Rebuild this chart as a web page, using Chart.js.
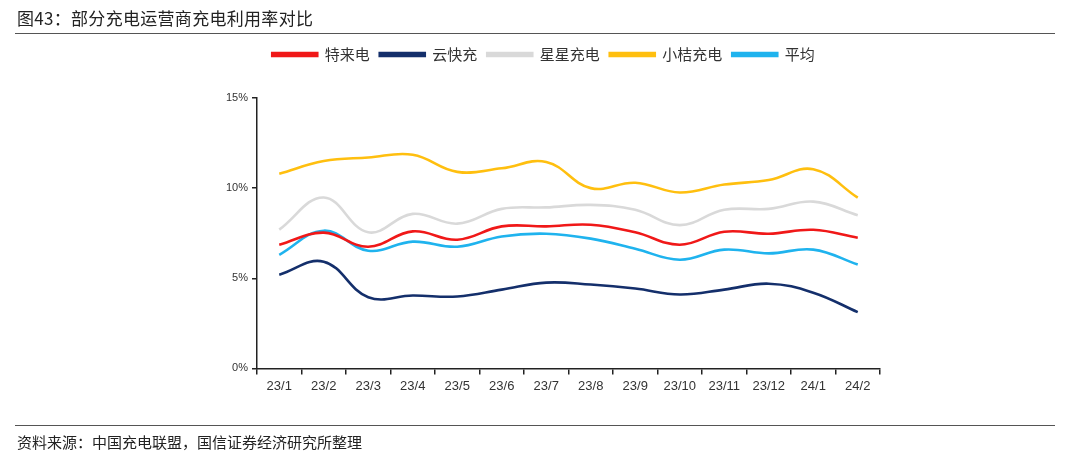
<!DOCTYPE html>
<html>
<head>
<meta charset="utf-8">
<script src="https://cdn.jsdelivr.net/npm/chart.js@4.4.1/dist/chart.umd.min.js"></script>
<style>
  html, body { margin: 0; padding: 0; background: #fff; }
  body { width: 1069px; height: 457px; position: relative; overflow: hidden;
         font-family: "Noto Sans CJK SC", "Noto Sans", sans-serif; }
  #wrap { position: absolute; left: 0; top: 0; width: 1069px; height: 457px; }
  .title { position: absolute; left: 17px; top: 5px; font-size: 17px; color: #222; letter-spacing: 0.3px; }
  .rule { position: absolute; left: 15px; width: 1040px; height: 0; border-top: 1.5px solid #555; }
  .source { position: absolute; left: 17px; top: 431px; font-size: 15px; color: #222; }
</style>
</head>
<body>
<div id="wrap"><canvas id="c" width="1069" height="457"></canvas></div>
<div class="title">图43：部分充电运营商充电利用率对比</div>
<div class="rule" style="top:33px"></div>
<div class="rule" style="top:425px"></div>
<div class="source">资料来源：中国充电联盟，国信证券经济研究所整理</div>
<script>
const categories = ['23/1','23/2','23/3','23/4','23/5','23/6','23/7','23/8','23/9','23/10','23/11','23/12','24/1','24/2'];
const teld    = [6.86, 7.53, 6.75, 7.60, 7.14, 7.88, 7.88, 7.97, 7.55, 6.86, 7.58, 7.47, 7.69, 7.25];
const ykc     = [5.20, 5.92, 3.95, 4.04, 3.99, 4.37, 4.76, 4.65, 4.43, 4.10, 4.37, 4.70, 4.20, 3.12];
const xingxing= [7.70, 9.48, 7.55, 8.57, 8.03, 8.85, 8.93, 9.07, 8.80, 7.95, 8.80, 8.85, 9.25, 8.50];
const xiaoju  = [10.80, 11.50, 11.70, 11.85, 10.90, 11.10, 11.45, 10.00, 10.30, 9.76, 10.20, 10.45, 11.05, 9.47];
const average = [6.30, 7.64, 6.53, 7.03, 6.75, 7.32, 7.47, 7.20, 6.64, 6.03, 6.59, 6.38, 6.59, 5.76];
const yTicks = [0, 5, 10, 15];

const names = ['特来电','云快充','星星充电','小桔充电','平均'];
const colors = ['#f01818','#142f6b','#d9d9d9','#ffbf0f','#1fb3ee'];
const series = [teld, ykc, xingxing, xiaoju, average];

const datasets = series.map((d, i) => ({
  label: names[i],
  data: d,
  borderColor: colors[i],
  backgroundColor: colors[i],
  borderWidth: 2.6,
  pointRadius: 0,
  tension: 0.4,
  fill: false
}));

new Chart(document.getElementById('c'), {
  type: 'line',
  data: { labels: categories, datasets },
  options: {
    responsive: false,
    animation: false,
    layout: { padding: { left: 207, right: 189, top: 37, bottom: 59 } },
    plugins: {
      tooltip: { enabled: false },
      legend: {
        position: 'top',
        weight: 1000,
        labels: {
          boxWidth: 45, boxHeight: 3, padding: 10,
          color: '#333',
          font: { family: '"Noto Sans CJK SC", sans-serif', size: 15 }
        }
      },
      subtitle: {
        display: true, text: '', weight: 500,
        font: { size: 1, lineHeight: 1 },
        padding: { top: 0, bottom: 25 }
      }
    },
    scales: {
      x: {
        offset: true,
        grid: { display: true, offset: true, drawOnChartArea: false, drawTicks: true, tickLength: 6, color: '#222', lineWidth: 1.5 },
        border: { display: true, color: '#222', width: 1.5 },
        ticks: { color: '#333', padding: 4, maxRotation: 0, autoSkip: false,
                 font: { family: '"Liberation Sans", Arial, sans-serif', size: 13 } }
      },
      y: {
        min: 0, max: 15,
        afterFit: (s) => { s.width = 50; },
        afterBuildTicks: (s) => { s.ticks = yTicks.map(v => ({ value: v })); },
        grid: { display: true, drawOnChartArea: false, drawTicks: true, tickLength: 5, color: '#222', lineWidth: 1.5 },
        border: { display: true, color: '#222', width: 1.5 },
        ticks: { color: '#333', padding: 4, callback: (v) => v + '%',
                 font: { family: '"Liberation Sans", Arial, sans-serif', size: 11 } }
      }
    }
  }
});
</script>
</body>
</html>
